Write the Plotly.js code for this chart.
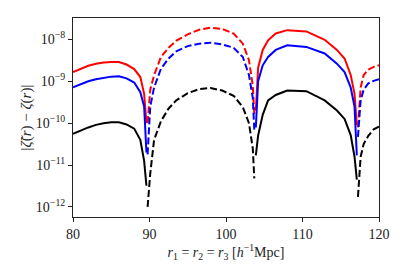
<!DOCTYPE html>
<html>
<head>
<meta charset="utf-8">
<script src="https://cdn.plot.ly/plotly-3.0.1.min.js"></script>
<style>html,body{margin:0;padding:0;background:#fff;}#chart{width:405px;height:270px;}</style>
</head>
<body>
<div id="chart"></div>
<script>
// shared radius grid
var r = [80, 81, 82, 83, 84, 85, 86, 87, 88, 88.8, 89.3, 89.6,
         89.75, 90.1, 90.6, 91.5, 92.5, 93.5, 95, 96.5, 98, 99.5, 101, 102.2, 103, 103.5, 103.7,
         103.9, 104.2, 104.8, 105.5, 106.5, 108, 110.5, 112.9, 114.5, 115.5, 116.3, 116.8, 117.1,
         117.25, 117.6, 118.0, 118.6, 119.3, 120];

// signed differences (positive -> solid, negative -> dashed)
var redDiff = [1.66e-9, 2.0e-9, 2.34e-9, 2.63e-9, 2.82e-9, 2.88e-9, 2.88e-9, 2.51e-9, 1.95e-9, 1.26e-9, 5.0e-10, 1.0e-10,
  -1.0e-10, -6.3e-10, -1.41e-9, -3.8e-9, -6.3e-9, -9.3e-9, -1.32e-8, -1.7e-8, -1.9e-8, -1.78e-8, -1.38e-8, -7.9e-9, -3.2e-9, -7.9e-10, -1.6e-10,
  2.0e-10, 2.1e-9, 5.6e-9, 9.5e-9, 1.38e-8, 1.66e-8, 1.55e-8, 9.8e-9, 5.6e-9, 3.5e-9, 1.41e-9, 5.0e-10, 8.9e-11,
  -7.9e-11, -7.1e-10, -1.41e-9, -1.9e-9, -2.2e-9, -2.4e-9];

var blueDiff = [7.2e-10, 8.5e-10, 1.0e-9, 1.12e-9, 1.2e-9, 1.29e-9, 1.32e-9, 1.17e-9, 9.3e-10, 5.5e-10, 2.5e-10, 2.0e-11,
  -1.8e-11, -2.5e-10, -7.1e-10, -2.0e-9, -3.5e-9, -5.2e-9, -6.9e-9, -7.9e-9, -8.3e-9, -7.6e-9, -6.3e-9, -3.8e-9, -1.41e-9, -4.0e-10, -6.8e-11,
  7.9e-11, 1.0e-9, 2.4e-9, 3.8e-9, 5.6e-9, 7.2e-9, 6.6e-9, 4.6e-9, 2.63e-9, 1.66e-9, 7.1e-10, 2.5e-10, 1.7e-11,
  -4.7e-11, -3.5e-10, -6.3e-10, -8.9e-10, -1.02e-9, -1.12e-9];

var blackDiff = [5.6e-11, 6.8e-11, 7.9e-11, 9.1e-11, 1.0e-10, 1.05e-10, 1.05e-10, 9.3e-11, 7.4e-11, 4.0e-11, 1.26e-11, 3.2e-12,
  -1.0e-12, -6.3e-12, -4.0e-11, -1.12e-10, -2.24e-10, -3.5e-10, -5.2e-10, -6.5e-10, -6.9e-10, -6.0e-10, -4.5e-10, -2.4e-10, -1.0e-10, -2.5e-11, -4.8e-12,
  1.7e-11, 5.1e-11, 1.58e-10, 3.5e-10, 4.7e-10, 6.0e-10, 5.8e-10, 3.5e-10, 2.0e-10, 1.26e-10, 5.2e-11, 1.58e-11, 4.5e-12,
  -1.74e-12, -1.58e-11, -3.2e-11, -5.0e-11, -7.1e-11, -8.3e-11];

var yTickVals = [1e-12, 1e-11, 1e-10, 1e-9, 1e-8];
var yTickText = ['10<sup>−12</sup>', '10<sup>−11</sup>', '10<sup>−10</sup>', '10<sup>−9</sup>', '10<sup>−8</sup>'];
var xTickVals = [80, 90, 100, 110, 120];

function segments(x, d, color) {
  var traces = [];
  var cur = null;
  for (var i = 0; i < x.length; i++) {
    var s = d[i] >= 0 ? 1 : -1;
    if (!cur || cur.sign !== s) {
      cur = {sign: s, x: [], y: []};
      traces.push(cur);
    }
    cur.x.push(x[i]);
    cur.y.push(Math.abs(d[i]));
  }
  return traces.map(function (t) {
    return {
      x: t.x, y: t.y, type: 'scatter', mode: 'lines', showlegend: false, hoverinfo: 'skip',
      line: {color: color, width: 2, dash: t.sign > 0 ? 'solid' : '7px,3px'}
    };
  });
}

var data = [].concat(
  segments(r, redDiff, '#ff0000'),
  segments(r, blueDiff, '#0000ff'),
  segments(r, blackDiff, '#000000')
);

var font = '"Liberation Serif", "DejaVu Serif", serif';
var fs = 14;
var layout = {
  width: 405, height: 270,
  margin: {l: 73, r: 26, t: 18, b: 53},
  paper_bgcolor: '#fff', plot_bgcolor: '#fff',
  font: {family: font, size: fs, color: '#222'},
  showlegend: false,
  xaxis: {
    range: [80, 120], tickvals: xTickVals, ticktext: xTickVals.map(String),
    ticks: 'outside', ticklen: 4, tickwidth: 1, tickcolor: '#222',
    showline: true, mirror: true, linecolor: '#222', linewidth: 1,
    showgrid: false, zeroline: false,
    tickfont: {family: font, size: fs, color: '#222'},
    title: {text: '<i>r</i><sub>1</sub> = <i>r</i><sub>2</sub> = <i>r</i><sub>3</sub> [<i>h</i><sup>−1</sup>Mpc]',
            font: {family: font, size: fs, color: '#222'}, standoff: 0}
  },
  yaxis: {
    type: 'log', range: [-12.24, -7.49], tickvals: yTickVals, ticktext: yTickText,
    ticks: 'outside', ticklen: 4, tickwidth: 1, tickcolor: '#222',
    showline: true, mirror: true, linecolor: '#222', linewidth: 1,
    showgrid: false, zeroline: false,
    tickfont: {family: font, size: fs, color: '#222'},
    title: {text: '|<i>ζ̃</i>(<i>r</i>) − <i>ζ</i>(<i>r</i>)|',
            font: {family: font, size: fs + 1, color: '#222'}, standoff: 0}
  }
};

Plotly.newPlot('chart', data, layout, {staticPlot: true, displayModeBar: false});
</script>
</body>
</html>
